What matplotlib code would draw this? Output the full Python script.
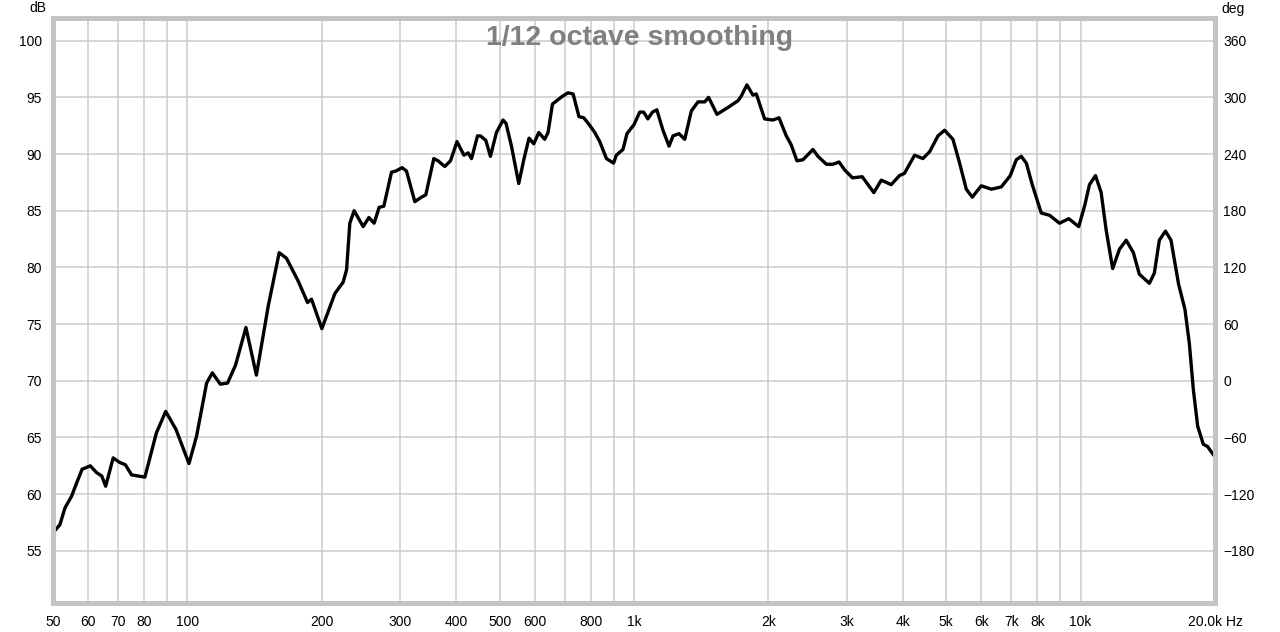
import numpy as np
import matplotlib
matplotlib.use("Agg")
import matplotlib.pyplot as plt
from matplotlib.ticker import FixedLocator, FixedFormatter, NullLocator

plt.rcParams['font.family'] = ['Liberation Sans', 'DejaVu Sans']

# frequency response (Hz, dB)
freq = [50, 51.8, 53.2, 55.0, 56.5, 58.1, 60.6, 62.6, 64.3, 65.6, 68.2, 70.5, 72.6, 75.0,
        80.3, 85.2, 89.4, 94.3, 100.8, 104.8, 110.4, 113.7, 118.5, 123, 128.2, 135.2,
        142.7, 146.6, 151.7, 160.5, 166.7, 177, 185.8, 189.6, 200, 213.9, 223.2, 227.2,
        231, 236.2, 247.5, 254.8, 261.9, 268.7, 275.3, 286.4, 292.8, 302.5, 309.4, 323,
        334.3, 341.8, 356.2, 364.2, 376.9, 388.2, 401.5, 416, 425.3, 432.7, 446.3, 453.2,
        465.8, 477, 492, 509, 517, 531.6, 552, 566.5, 582, 596.4, 612, 631, 642, 656.7,
        676, 691.6, 711.7, 730.6, 753, 771.8, 793.4, 817, 838, 867.5, 900, 913, 944.6,
        964.5, 1000, 1030, 1051, 1074, 1100, 1125, 1161, 1198, 1223, 1261, 1299, 1344,
        1391, 1440, 1469, 1534, 1622, 1709, 1738, 1790, 1846, 1879, 1961, 2047, 2112,
        2193, 2250, 2317, 2390, 2516, 2582, 2697, 2790, 2879, 2963, 3085, 3244, 3444,
        3578, 3766, 3931, 4033, 4250, 4434, 4591, 4793, 4961, 5178, 5360, 5547, 5722,
        5994, 6311, 6645, 6960, 7180, 7366, 7560, 7795, 8165, 8522, 8970, 9410, 9905,
        10207, 10470, 10800, 11120, 11410, 11800, 12220, 12650, 13130, 13540, 14260,
        14630, 15010, 15490, 15940, 16580, 17130, 17520, 17890, 18290, 18830, 19250, 19820]
spl = [56.6, 57.3, 58.8, 59.8, 61.0, 62.2, 62.5, 61.9, 61.6, 60.7, 63.2, 62.8, 62.6, 61.7,
       61.5, 65.4, 67.3, 65.7, 62.7, 65.1, 69.8, 70.7, 69.7, 69.8, 71.4, 74.7,
       70.5, 73.2, 76.6, 81.3, 80.8, 78.8, 76.9, 77.2, 74.6, 77.7, 78.7, 79.8,
       83.9, 85.0, 83.6, 84.4, 83.9, 85.3, 85.4, 88.4, 88.5, 88.8, 88.5, 85.8,
       86.2, 86.4, 89.6, 89.4, 88.9, 89.4, 91.1, 89.9, 90.1, 89.6, 91.6, 91.6,
       91.2, 89.8, 91.9, 93.0, 92.7, 90.7, 87.4, 89.5, 91.4, 90.9, 91.9, 91.3, 91.9, 94.4,
       94.8, 95.1, 95.4, 95.3, 93.3, 93.2, 92.6, 91.9, 91.1, 89.6, 89.2, 89.9, 90.4,
       91.8, 92.6, 93.7, 93.7, 93.1, 93.7, 93.9, 92.1, 90.7, 91.6, 91.8, 91.3, 93.8,
       94.6, 94.6, 95.0, 93.5, 94.1, 94.7, 95.1, 96.1, 95.2, 95.3, 93.1, 93.0, 93.2,
       91.6, 90.8, 89.4, 89.5, 90.4, 89.8, 89.1, 89.1, 89.3, 88.6, 87.9, 88.0, 86.6,
       87.7, 87.3, 88.1, 88.3, 89.9, 89.6, 90.2, 91.6, 92.1, 91.3, 89.2, 86.9, 86.2,
       87.2, 86.9, 87.1, 88.1, 89.5, 89.8, 89.2, 87.3, 84.8, 84.6, 83.9, 84.3, 83.6,
       85.4, 87.3, 88.1, 86.6, 83.3, 79.9, 81.6, 82.4, 81.3, 79.4, 78.6,
       79.5, 82.4, 83.2, 82.4, 78.5, 76.3, 73.3, 69.2, 66.0, 64.4, 64.2, 63.5]

x_grid = [50, 60, 70, 80, 90, 100, 200, 300, 400, 500, 600, 700, 800, 900,
          1000, 2000, 3000, 4000, 5000, 6000, 7000, 8000, 9000, 10000, 20000]
x_labels = ['50', '60', '70', '80', '', '100', '200', '300', '400', '500', '600', '', '800', '',
            '1k', '2k', '3k', '4k', '5k', '6k', '7k', '8k', '', '10k', '20.0k Hz']
db_ticks = [55, 60, 65, 70, 75, 80, 85, 90, 95, 100]
deg_ticks = [-180, -120, -60, 0, 60, 120, 180, 240, 300, 360]

fig = plt.figure(figsize=(12.8, 6.32), dpi=100)
ax = fig.add_axes([53 / 1280, 29 / 632, 1162 / 1280, 585 / 632])

ax.plot(freq, spl, color='black', lw=2.4, solid_joinstyle='round', zorder=3)

ax.set_xscale('log')
ax.set_xlim(50, 20000)
ax.set_ylim(50.4, 102)
ax.xaxis.set_major_locator(FixedLocator(x_grid))
ax.xaxis.set_major_formatter(FixedFormatter(x_labels))
ax.xaxis.set_minor_locator(NullLocator())
ax.set_yticks(db_ticks)
ax.grid(True, color='#cccccc', lw=1.1)
ax.tick_params(length=0, labelsize=10, colors='black')
ax.tick_params(axis='x', pad=9)
ax.tick_params(axis='y', pad=8)

ax2 = ax.twinx()
ax2.set_ylim((50.4 - 70) * 12, (102 - 70) * 12)
ax2.set_yticks(deg_ticks)
ax2.tick_params(length=0, labelsize=10, pad=6)

for a in (ax, ax2):
    for s in a.spines.values():
        s.set_color('#c4c4c4')
        s.set_linewidth(3.5)

fig.text(38 / 1280, 1 - 8 / 632, 'dB', ha='center', va='center', fontsize=10)
fig.text(1233 / 1280, 1 - 9 / 632, 'deg', ha='center', va='center', fontsize=10)
fig.text(640 / 1280, 1 - 45 / 632, '1/12 octave smoothing', ha='center', va='baseline',
         fontsize=20.5, fontweight='bold', color='#808080')

fig.savefig('out.png', dpi=100, facecolor='white')
